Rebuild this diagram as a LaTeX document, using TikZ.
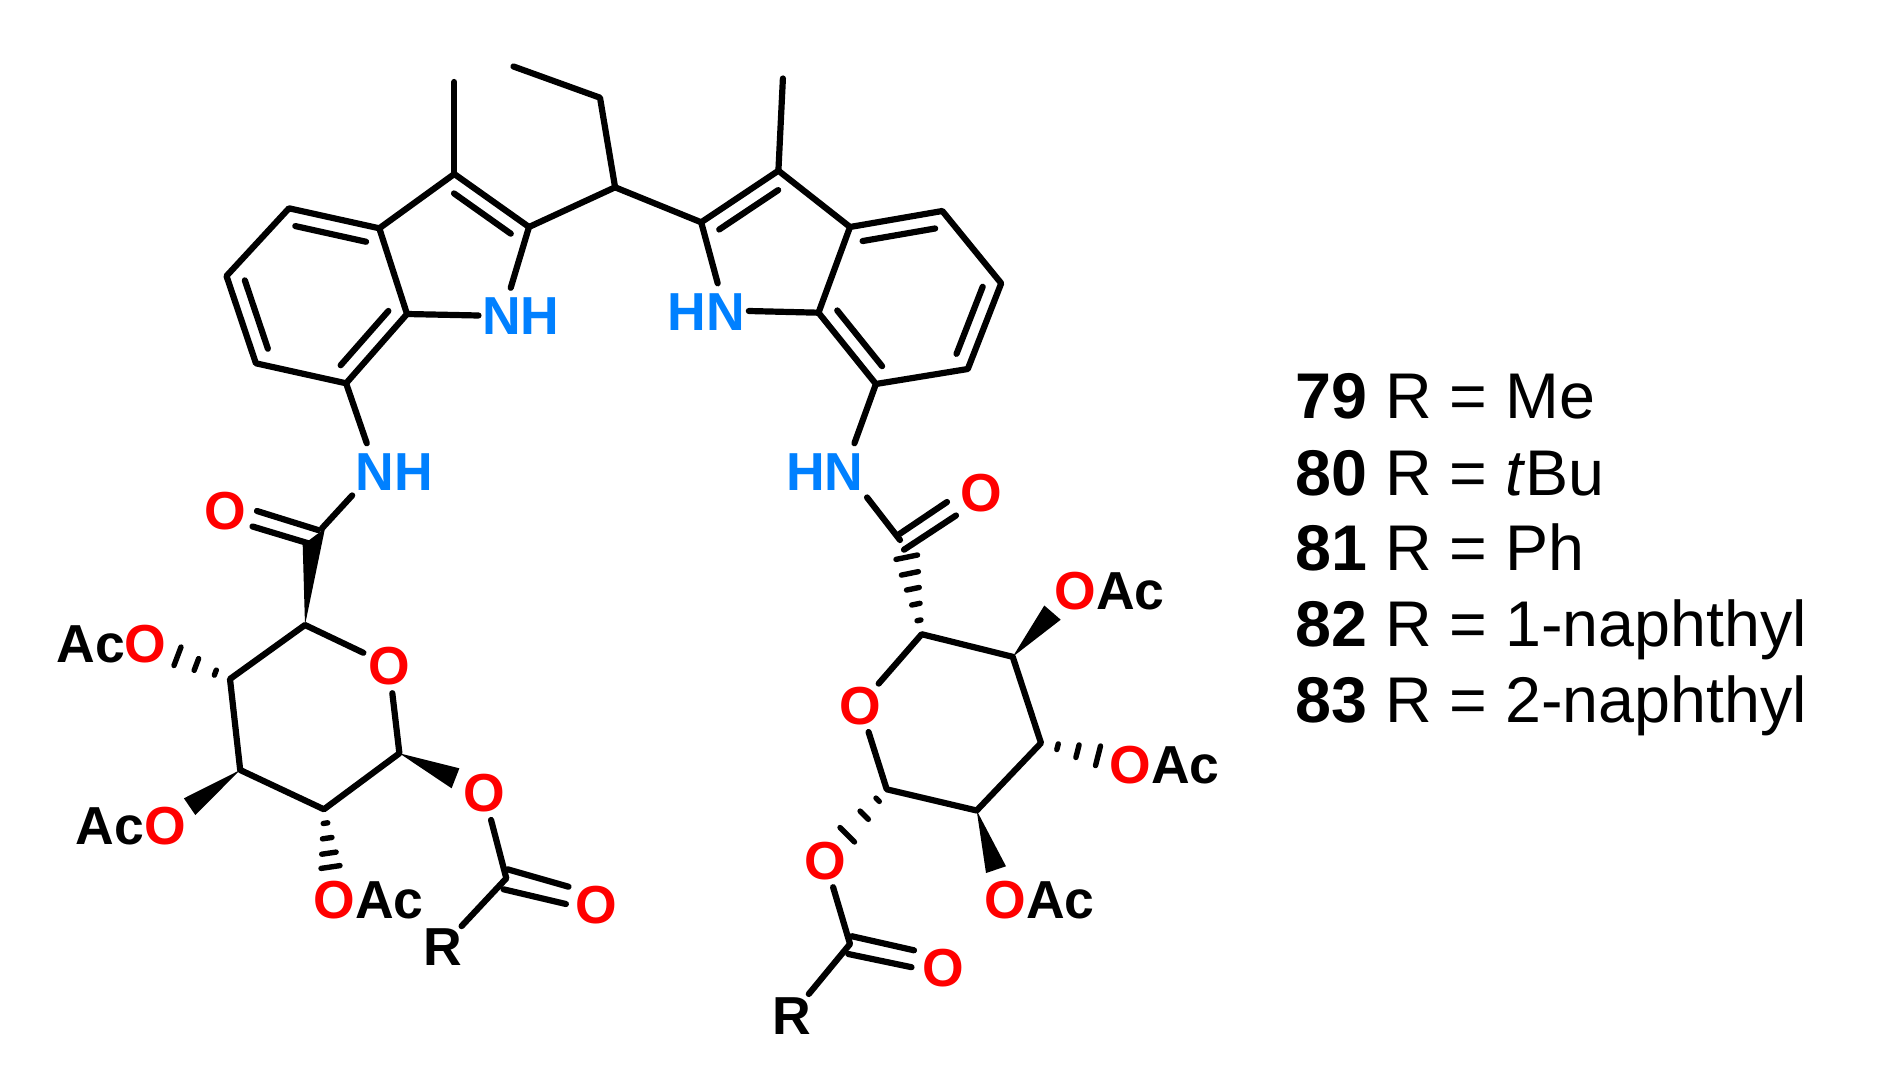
\documentclass[tikz,border=0pt]{standalone}
\usepackage{fontspec}
\setmainfont{Liberation Sans}
\usetikzlibrary{calc}
\definecolor{oxy}{RGB}{255,0,0}
\definecolor{nitro}{RGB}{0,128,255}
\tikzset{
    bond/.style={line width=6.2pt,line cap=round,line join=round},
    atomlabel/.style={font=\fontsize{53.5}{60}\selectfont\bfseries,text height=38pt,text depth=0pt,circle,inner sep=0pt,minimum size=53pt},
    nhlabel/.style={font=\fontsize{53.5}{60}\selectfont\bfseries,text=nitro,text height=38pt,text depth=0pt,inner xsep=3.5pt,inner ysep=8.5pt},
    grouplabel/.style={font=\fontsize{53.5}{60}\selectfont\bfseries,inner sep=0pt},
    listitem/.style={font=\fontsize{64.6}{70}\selectfont,inner sep=0pt,anchor=base west}
}
\newcommand{\innerbond}[4]{\draw[bond,shorten <=#4,shorten >=#4] ($(#1)!#3!90:(#2)$) -- ($(#2)!#3!-90:(#1)$);}
\newcommand{\wedgebond}[3]{\fill (#1) -- (#2) -- (#3) -- cycle;}
\newcommand{\hashbond}[4]{\foreach \t in {#4} {\draw[line width=5.4pt,line cap=round] ($(#1)!\t!(#2)$) -- ($(#1)!\t!(#3)$);}}

\begin{document}
\begin{tikzpicture}[x=1pt,y=-1pt]
    \path[use as bounding box] (0,0) rectangle (1878,1083);

    % left indole
    \coordinate (MeL) at (454.3,82);
    \coordinate (C3l) at (454.3,174);
    \coordinate (C2l) at (529,227);
    \coordinate (C3al) at (379.3,228.3);
    \coordinate (C4l) at (289,208.3);
    \coordinate (C5l) at (226.5,276);
    \coordinate (C6l) at (255.9,363.3);
    \coordinate (C7l) at (346.1,383.3);
    \coordinate (C7al) at (407,314);
    \node (NHl) [nhlabel] at (520.8,315.5) {NH};
    \node (NHal) [nhlabel] at (394.5,471) {NH};

    % bridge
    \coordinate (CH) at (615.1,187.3);
    \coordinate (CH2) at (600,97.7);
    \coordinate (CH3) at (513.5,66.5);

    % right indole
    \coordinate (MeR) at (782.9,78.5);
    \coordinate (C3r) at (778.4,170.7);
    \coordinate (C2r) at (701.2,222.3);
    \coordinate (C3ar) at (850,227);
    \coordinate (C4r) at (942.3,211);
    \coordinate (C5r) at (1001.2,283.3);
    \coordinate (C6r) at (967.8,369);
    \coordinate (C7r) at (875.9,384);
    \coordinate (C7ar) at (818.5,312.7);
    \node (NHr) [nhlabel] at (706.5,311) {HN};
    \node (NHar) [nhlabel] at (824.7,471) {HN};

    % left sugar
    \coordinate (CAl) at (322,528.3);
    \node (OAl) [atomlabel,text=oxy] at (225.7,510.7) {O};
    \coordinate (G5l) at (305,625);
    \node (Orl) [atomlabel,text=oxy] at (389,665) {O};
    \coordinate (G4l) at (230,679);
    \coordinate (G3l) at (240.2,770);
    \coordinate (G2l) at (323.9,809.3);
    \coordinate (G1l) at (399.4,753.3);
    \node (OEl) [atomlabel,text=oxy] at (483.9,792.5) {O};
    \coordinate (CEl) at (506.3,878.3);
    \node (OCl) [atomlabel,text=oxy] at (596.5,904.5) {O};
    \node (Rl) [atomlabel] at (443,946) {R};
    \node (AcOa) [grouplabel,anchor=base east] at (166.7,662.3) {Ac\textcolor{oxy}{O}};
    \node (AcOb) [grouplabel,anchor=base east] at (186,844.7) {Ac\textcolor{oxy}{O}};
    \node (OAcl) [grouplabel,anchor=base west] at (313.5,918.3) {\textcolor{oxy}{O}Ac};

    % right sugar
    \coordinate (CAr) at (900,540);
    \node (OAr) [atomlabel,text=oxy] at (980.8,492.5) {O};
    \coordinate (G5r) at (921.7,634.2);
    \node (Orr) [atomlabel,text=oxy] at (860,705) {O};
    \coordinate (G4r) at (1012.7,656.8);
    \coordinate (G3r) at (1041,743);
    \coordinate (G2r) at (976.7,810.5);
    \coordinate (G1r) at (886.7,789.3);
    \node (OEr) [atomlabel,text=oxy] at (825,860) {O};
    \coordinate (CEr) at (850,944);
    \node (OCr) [atomlabel,text=oxy] at (943,967) {O};
    \node (Rr) [atomlabel] at (791.5,1015) {R};
    \node (OAca) [grouplabel,anchor=base west] at (1054.5,609.2) {\textcolor{oxy}{O}Ac};
    \node (OAcb) [grouplabel,anchor=base west] at (1109.5,783.5) {\textcolor{oxy}{O}Ac};
    \node (OAcc) [grouplabel,anchor=base west] at (984.5,918.3) {\textcolor{oxy}{O}Ac};

    % left indole bonds
    \draw[bond] (MeL) -- (C3l);
    \draw[bond] (C3l) -- (C2l);
    \draw[bond] (C3l) -- (C3al) -- (C4l) -- (C5l) -- (C6l) -- (C7l) -- (C7al) -- (C3al);
    \draw[bond] (C2l) -- (NHl.110);
    \draw[bond] (C7al) -- (NHl.west);
    \draw[bond] (C7l) -- (NHal.135);
    \innerbond{C2l}{C3l}{16pt}{11pt}
    \innerbond{C3al}{C4l}{16pt}{10pt}
    \innerbond{C5l}{C6l}{16pt}{10pt}
    \innerbond{C7l}{C7al}{16pt}{10pt}

    % bridge bonds
    \draw[bond] (CH3) -- (CH2) -- (CH);
    \draw[bond] (C2l) -- (CH) -- (C2r);

    % right indole bonds
    \draw[bond] (MeR) -- (C3r);
    \draw[bond] (C2r) -- (C3r) -- (C3ar) -- (C4r) -- (C5r) -- (C6r) -- (C7r) -- (C7ar) -- (C3ar);
    \draw[bond] (C2r) -- (NHr.68);
    \draw[bond] (C7ar) -- (NHr.east);
    \draw[bond] (C7r) -- (NHar.43);
    \innerbond{C3r}{C2r}{16pt}{11pt}
    \innerbond{C4r}{C3ar}{16pt}{10pt}
    \innerbond{C6r}{C5r}{16pt}{10pt}
    \innerbond{C7ar}{C7r}{16pt}{10pt}

    % left sugar bonds
    \draw[bond] (NHal.210) -- (CAl);
    \coordinate (da) at (257,511); \coordinate (db) at (318,530);
    \coordinate (dc) at (252.5,526.5); \coordinate (dd) at (308.3,543.3);
    \draw[bond] (da) -- (db);
    \draw[bond] (dc) -- (dd);
    \coordinate (wa) at (325,528.3); \coordinate (wb) at (302.7,545);
    \wedgebond{G5l}{wa}{wb}
    \draw[bond] (Orl) -- (G5l) -- (G4l) -- (G3l) -- (G2l) -- (G1l) -- (Orl);
    \coordinate (ha) at (181,647); \coordinate (hb) at (174,665.5);
    \hashbond{G4l}{ha}{hb}{0.28,0.64,1}
    \coordinate (wc) at (183.9,798.3); \coordinate (wd) at (195.3,815);
    \wedgebond{G3l}{wc}{wd}
    \coordinate (hc) at (321,868.4); \coordinate (hd) at (340,865.6);
    \hashbond{G2l}{hc}{hd}{0.24,0.5,0.76,1}
    \coordinate (we) at (459.4,768.3); \coordinate (wf) at (451.6,788.3);
    \wedgebond{G1l}{we}{wf}
    \draw[bond] (OEl) -- (CEl) -- (Rl);
    \coordinate (dg) at (507.6,869.3); \coordinate (dh) at (568.5,886.7);
    \coordinate (di) at (503.5,889.3); \coordinate (dj) at (565.9,904);
    \draw[bond] (dg) -- (dh);
    \draw[bond] (di) -- (dj);

    % right sugar bonds
    \draw[bond] (NHar.-32) -- (CAr);
    \coordinate (dk) at (898,535); \coordinate (dl) at (947,502);
    \coordinate (dm) at (904,549.7); \coordinate (dn) at (956,515.5);
    \draw[bond] (dk) -- (dl);
    \draw[bond] (dm) -- (dn);
    \coordinate (he) at (896,559.4); \coordinate (hf) at (917.5,555);
    \hashbond{G5r}{he}{hf}{0.18,0.39,0.59,0.79,1}
    \draw[bond] (Orr) -- (G5r) -- (G4r) -- (G3r) -- (G2r) -- (G1r) -- (Orr);
    \coordinate (wg) at (1044.3,605.5); \coordinate (wh) at (1060.7,619.7);
    \wedgebond{G4r}{wg}{wh}
    \coordinate (hg) at (1100.5,746); \coordinate (hh) at (1095.5,765.6);
    \hashbond{G3r}{hg}{hh}{0.29,0.64,1}
    \coordinate (wi) at (986,873); \coordinate (wj) at (1006,866.3);
    \wedgebond{G2r}{wi}{wj}
    \coordinate (hi) at (840,827.5); \coordinate (hj) at (854.5,842);
    \hashbond{G1r}{hi}{hj}{0.23,0.57,1}
    \draw[bond] (OEr) -- (CEr) -- (Rr);
    \coordinate (do) at (851.7,936.2); \coordinate (dp) at (914,950.3);
    \coordinate (dq) at (848.3,954); \coordinate (dr) at (911.5,967.2);
    \draw[bond] (do) -- (dp);
    \draw[bond] (dq) -- (dr);

    % list of compounds
    \node (l79) [listitem] at (1295,418.3) {\textbf{79} R = Me};
    \node (l80) [listitem] at (1295,495) {\textbf{80} R = \textit{t}Bu};
    \node (l81) [listitem] at (1295,570.7) {\textbf{81} R = Ph};
    \node (l82) [listitem] at (1295,646) {\textbf{82} R = 1-naphthyl};
    \node (l83) [listitem] at (1295,722.7) {\textbf{83} R = 2-naphthyl};
\end{tikzpicture}
\end{document}
